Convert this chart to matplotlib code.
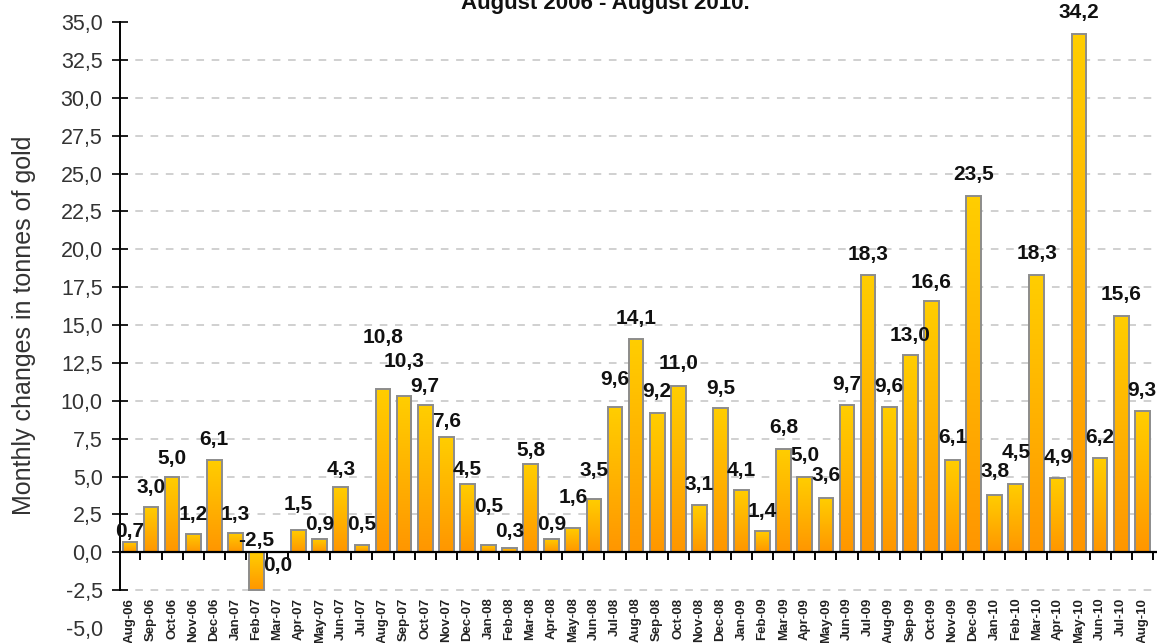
import matplotlib
matplotlib.use("Agg")
import matplotlib.pyplot as plt
import matplotlib.ticker as mticker
import numpy as np

# ===== DATA =====
MONTHS = ["Aug-06", "Sep-06", "Oct-06", "Nov-06", "Dec-06",
          "Jan-07", "Feb-07", "Mar-07", "Apr-07", "May-07", "Jun-07", "Jul-07",
          "Aug-07", "Sep-07", "Oct-07", "Nov-07", "Dec-07",
          "Jan-08", "Feb-08", "Mar-08", "Apr-08", "May-08", "Jun-08", "Jul-08",
          "Aug-08", "Sep-08", "Oct-08", "Nov-08", "Dec-08",
          "Jan-09", "Feb-09", "Mar-09", "Apr-09", "May-09", "Jun-09", "Jul-09",
          "Aug-09", "Sep-09", "Oct-09", "Nov-09", "Dec-09",
          "Jan-10", "Feb-10", "Mar-10", "Apr-10", "May-10", "Jun-10", "Jul-10",
          "Aug-10"]
CHANGES = [0.7, 3.0, 5.0, 1.2, 6.1,
           1.3, -2.5, 0.0, 1.5, 0.9, 4.3, 0.5,
           10.8, 10.3, 9.7, 7.6, 4.5,
           0.5, 0.3, 5.8, 0.9, 1.6, 3.5, 9.6,
           14.1, 9.2, 11.0, 3.1, 9.5,
           4.1, 1.4, 6.8, 5.0, 3.6, 9.7, 18.3,
           9.6, 13.0, 16.6, 6.1, 23.5,
           3.8, 4.5, 18.3, 4.9, 34.2, 6.2, 15.6,
           9.3]
# vertical gap (px) between bar top and label centre, as laid out in the original
LABEL_GAP = [10, 19, 18, 20, 20,
             18, 12, -13, 25, 14, 18, 20,
             51, 35, 19, 16, 15,
             38, 16, 14, 14, 31, 29, 27,
             20, 21, 22, 21, 20,
             20, 20, 22, 21, 22, 21, 21,
             20, 20, 18, 22, 22,
             23, 32, 22, 21, 22, 21, 21,
             21]
TITLE = "August 2006 - August 2010."
YLABEL = "Monthly changes in tonnes of gold"

# ===== STYLE =====
W, H, DPI = 1157, 643, 100
FONT = ["Liberation Sans", "DejaVu Sans"]
TOP_COL = np.array([255, 206, 0]) / 255.0
BOT_COL = np.array([255, 150, 0]) / 255.0
plt.rcParams["font.family"] = FONT

fig = plt.figure(figsize=(W / DPI, H / DPI), dpi=DPI)
ax = fig.add_axes([120 / W, (H - 628) / H, (W - 120) / W, (628 - 19) / H])

x = np.arange(len(CHANGES))
bars = ax.bar(x, CHANGES, width=0.7, facecolor="none", edgecolor="#8c8c8c",
              linewidth=1.4, zorder=3)

# vertical yellow -> orange gradient inside each bar
grad = np.linspace(0, 1, 256)[:, None, None]
grad_img = TOP_COL[None, None, :] * (1 - grad) + BOT_COL[None, None, :] * grad
for rect, v in zip(bars, CHANGES):
    if v == 0:
        continue
    x0 = rect.get_x()
    x1 = x0 + rect.get_width()
    lo, hi = min(0, v), max(0, v)
    im = ax.imshow(grad_img, extent=[x0, x1, lo, hi], origin="upper",
                   aspect="auto", zorder=2, interpolation="bilinear")
    im.set_clip_path(rect)

# value labels
for xi, v, gap in zip(x, CHANGES, LABEL_GAP):
    top = max(v, 0)
    ax.annotate(f"{v:.1f}".replace(".", ","), (xi, top),
                xytext=(0, gap * 72 / DPI), textcoords="offset points",
                ha="center", va="center", fontsize=15, fontweight="bold",
                color="#111111", zorder=5)

ax.set_xlim(-0.47, 48.7)
ax.set_ylim(-5, 35.2)

# y axis
ax.set_yticks(np.arange(-5, 35.01, 2.5))
ax.yaxis.set_major_formatter(mticker.FuncFormatter(
    lambda v, p: f"{v:.1f}".replace(".", ",")))
ax.tick_params(axis="y", direction="inout", length=11, width=1.2,
               labelsize=15.5, labelcolor="#333333", pad=7)
ax.yaxis.get_major_ticks()[0].tick1line.set_visible(False)
for gy in np.arange(-2.5, 32.51, 2.5):
    if abs(gy) < 1e-9:
        continue
    ax.axhline(gy, color="#c4c4c4", lw=1.1, ls=(0, (5, 5)), zorder=1)

# x axis at zero with ticks between bars
ax.spines["bottom"].set_position(("data", 0))
ax.spines["bottom"].set_linewidth(1.6)
ax.spines["bottom"].set_zorder(4)
ax.spines["left"].set_linewidth(1.4)
ax.spines["left"].set_bounds(-2.5, 35)
ax.spines["top"].set_visible(False)
ax.spines["right"].set_visible(False)
ax.set_xticks(np.arange(0.5, 48.6, 1.0))
ax.set_xticklabels([])
ax.tick_params(axis="x", direction="out", length=6, width=1.4)

for xi, m in zip(x, MONTHS):
    ax.text(xi, -3.0, m, rotation=90, ha="center", va="top", fontsize=9.5,
            fontweight="bold", color="#222222", clip_on=False)

fig.text(24 / W, 1 - 325 / H, YLABEL, rotation=90, ha="center", va="center",
         fontsize=18, color="#333333")
fig.text(605 / W, 1 - 9 / H, TITLE, ha="center", va="baseline",
         fontsize=16, fontweight="bold", color="#111111")

fig.savefig("out.png", dpi=DPI)
